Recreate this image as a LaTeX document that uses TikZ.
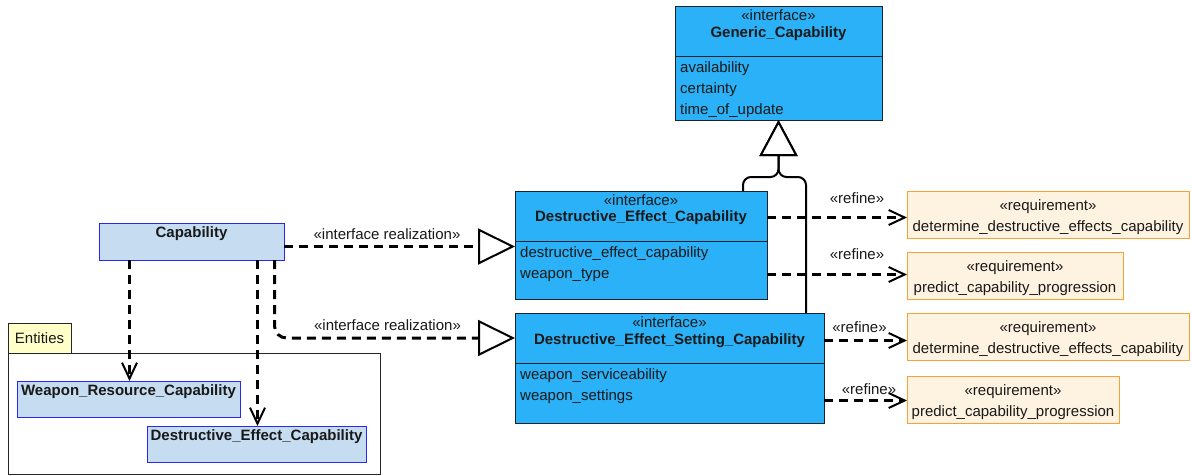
\documentclass[tikz,border=0pt]{standalone}
\usepackage{fontspec}
\setmainfont{Liberation Sans}
\usetikzlibrary{arrows.meta,calc}

\definecolor{ifacefill}{RGB}{42,177,247}
\definecolor{ifaceline}{RGB}{25,35,45}
\definecolor{clsfill}{RGB}{198,221,241}
\definecolor{clsline}{RGB}{40,40,240}
\definecolor{reqfill}{RGB}{254,242,224}
\definecolor{reqline}{RGB}{246,162,52}
\definecolor{tabfill}{RGB}{255,255,200}

\tikzset{
  box/.style={anchor=north west, inner sep=0pt, outer sep=0pt, line width=1pt},
  iface/.style={box, draw=ifaceline, fill=ifacefill},
  cls/.style={box, draw=clsline, fill=clsfill},
  req/.style={box, draw=reqline, fill=reqfill},
  pkg/.style={box, draw=black!85, line width=0.9pt},
  txt/.style={inner sep=0pt, anchor=base, text=black!90, font=\fontsize{15}{18}\selectfont},
  btxt/.style={txt, font=\fontsize{15}{18}\selectfont\bfseries},
  attr/.style={txt, anchor=base west},
  sepline/.style={draw=ifaceline, line width=1pt},
  dashline/.style={line width=3pt, dash pattern=on 9pt off 6pt},
  dep/.style={dashline, -{Straight Barb[length=16pt, width=15pt, line width=2pt]}},
  realize/.style={dashline, -{Triangle[length=37pt, width=36pt, fill=white, line width=2pt]}},
  genline/.style={line width=2pt, rounded corners=8pt,
    -{Triangle[length=36pt, width=38pt, fill=white, line width=2pt]}},
}

\begin{document}
\begin{tikzpicture}[x=1pt, y=-1pt]
  \useasboundingbox (0,0) rectangle (1192,475);
  \fill[white] (0,0) rectangle (1192,475);

  % Generic_Capability interface
  \node[iface, minimum width=207pt, minimum height=114pt] (gcap) at (675,6) {};
  \node[txt] (gcapst) at (778.5,20) {«interface»};
  \node[btxt] (gcapnm) at (778.5,37) {Generic\_Capability};
  \draw[sepline] (gcap.west |- 0,56) -- (gcap.east |- 0,56);
  \node[attr] (gcapa1) at (680,72) {availability};
  \node[attr] (gcapa2) at (680,93) {certainty};
  \node[attr] (gcapa3) at (680,114) {time\_of\_update};

  % Destructive_Effect_Capability interface
  \node[iface, minimum width=252pt, minimum height=108pt] (dec) at (515,191) {};
  \node[txt] (decst) at (641,205.5) {«interface»};
  \node[btxt] (decnm) at (641,221.5) {Destructive\_Effect\_Capability};
  \draw[sepline] (dec.west |- 0,241) -- (dec.east |- 0,241);
  \node[attr] (deca1) at (520,257) {destructive\_effect\_capability};
  \node[attr] (deca2) at (520,278) {weapon\_type};

  % Destructive_Effect_Setting_Capability interface
  \node[iface, minimum width=309pt, minimum height=110pt] (desc) at (515,313) {};
  \node[txt] (descst) at (669.5,327.5) {«interface»};
  \node[btxt] (descnm) at (669.5,344) {Destructive\_Effect\_Setting\_Capability};
  \draw[sepline] (desc.west |- 0,363) -- (desc.east |- 0,363);
  \node[attr] (desca1) at (520,379) {weapon\_serviceability};
  \node[attr] (desca2) at (520,400) {weapon\_settings};

  % Capability class
  \node[cls, minimum width=185pt, minimum height=37pt] (cap) at (99,223) {};
  \node[btxt] (capnm) at (191.5,237) {Capability};

  % Entities package
  \node[pkg, fill=tabfill, minimum width=63pt, minimum height=30pt] (enttab) at (8,323) {};
  \node[txt] (entnm) at (39.5,343) {Entities};
  \node[pkg, fill=white, minimum width=372pt, minimum height=121.5pt] (ent) at (8,353) {};

  \node[cls, minimum width=223pt, minimum height=36pt] (wrc) at (17,381) {};
  \node[btxt] (wrcnm) at (128.5,395.5) {Weapon\_Resource\_Capability};
  \node[cls, minimum width=219pt, minimum height=36pt] (dec2) at (147,426) {};
  \node[btxt] (dec2nm) at (256.5,440.5) {Destructive\_Effect\_Capability};

  % Requirements
  \node[req, minimum width=282pt, minimum height=47pt] (r1) at (907,191) {};
  \node[txt] (r1st) at (1048,210.5) {«requirement»};
  \node[txt] (r1nm) at (1048,231) {determine\_destructive\_effects\_capability};
  \node[req, minimum width=216pt, minimum height=47pt] (r2) at (907,252) {};
  \node[txt] (r2st) at (1015,271.5) {«requirement»};
  \node[txt] (r2nm) at (1015,292) {predict\_capability\_progression};
  \node[req, minimum width=282pt, minimum height=47pt] (r3) at (907,313) {};
  \node[txt] (r3st) at (1048,332.5) {«requirement»};
  \node[txt] (r3nm) at (1048,353) {determine\_destructive\_effects\_capability};
  \node[req, minimum width=212pt, minimum height=47pt] (r4) at (907,376) {};
  \node[txt] (r4st) at (1013,395.5) {«requirement»};
  \node[txt] (r4nm) at (1013,416) {predict\_capability\_progression};

  % Generalizations towards Generic_Capability
  \coordinate (gsplit) at (778.5,177);
  \draw[genline] (dec.north -| 743,0) |- (gsplit) -- (gcap.south);
  \draw[genline] (desc.north -| 806,0) |- (gsplit) -- (gcap.south);

  % Interface realizations
  \draw[realize] (cap.east |- 0,246.5) -- (dec.west |- 0,246.5);
  \node[txt] (ir1) at (387,239) {«interface realization»};
  \draw[realize, rounded corners=12pt] (cap.south -| 274.5,0) |- (desc.west |- 0,338);
  \node[txt] (ir2) at (387.5,330.5) {«interface realization»};

  % Dependencies into the Entities package
  \draw[dep] (cap.south -| 129.5,0) -- (wrc.north -| 129.5,0);
  \draw[dep] (cap.south -| 257.5,0) -- (dec2.north -| 257.5,0);

  % Refinements
  \draw[dep] (dec.east |- 0,217.5) -- (r1.west |- 0,217.5);
  \node[txt] (rf1) at (857,203) {«refine»};
  \draw[dep] (dec.east |- 0,274.5) -- (r2.west |- 0,274.5);
  \node[txt] (rf2) at (857,259) {«refine»};
  \draw[dep] (desc.east |- 0,340.5) -- (r3.west |- 0,340.5);
  \node[txt] (rf3) at (859.5,332) {«refine»};
  \draw[dep] (desc.east |- 0,400.5) -- (r4.west |- 0,400.5);
  \node[txt] (rf4) at (869,394) {«refine»};
\end{tikzpicture}
\end{document}
